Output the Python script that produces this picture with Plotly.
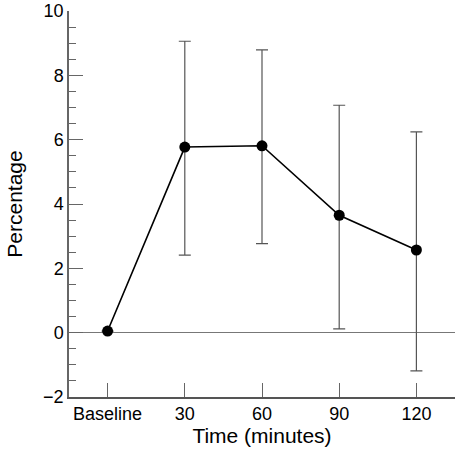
import plotly.graph_objects as go

categories = ["Baseline", "30", "60", "90", "120"]
means = [0.05, 5.77, 5.81, 3.65, 2.57]
upper = [None, 9.06, 8.79, 7.07, 6.24]
lower = [None, 2.41, 2.77, 0.12, -1.19]

xpos = list(range(len(categories)))
err_plus = [0 if u is None else u - m for u, m in zip(upper, means)]
err_minus = [0 if l is None else m - l for l, m in zip(lower, means)]

fig = go.Figure()
fig.add_trace(go.Scatter(
    x=xpos, y=means, mode="lines+markers",
    line=dict(color="black", width=1.6),
    marker=dict(color="black", size=11),
    error_y=dict(type="data", symmetric=False, array=err_plus, arrayminus=err_minus,
                 color="#555555", thickness=1.2, width=6),
    showlegend=False,
    cliponaxis=False,
))

font = "Liberation Sans, Arial, Helvetica, sans-serif"
fig.update_layout(
    width=455, height=452,
    margin=dict(l=69, r=0, t=11, b=55),
    paper_bgcolor="white", plot_bgcolor="white",
    font=dict(family=font, color="black", size=18),
    xaxis=dict(
        range=[-0.5, 4.5], tickvals=xpos, ticktext=categories,
        ticks="inside", ticklen=14, tickcolor="#666666", tickwidth=1,
        showline=True, linecolor="#555555", linewidth=1.5,
        showgrid=False, zeroline=False, automargin=False,
        tickfont=dict(size=18),
        title=dict(text="Time (minutes)", font=dict(size=21), standoff=4),
    ),
    yaxis=dict(
        range=[-2, 10], tickvals=[-2, 0, 2, 4, 6, 8, 10],
        ticktext=["\u22122", "0", "2", "4", "6", "8", "10"],
        ticks="inside", ticklen=14, tickcolor="#666666", tickwidth=1,
        minor=dict(ticks="inside", ticklen=7, dtick=0.5, tick0=0, tickcolor="#666666", tickwidth=1),
        showline=True, linecolor="#666666", linewidth=1.5,
        showgrid=False, automargin=False,
        zeroline=True, zerolinecolor="#777777", zerolinewidth=1,
        tickfont=dict(size=18),
        title=dict(text="Percentage", font=dict(size=21), standoff=15),
    ),
)

fig.write_html("out.html", config={"displayModeBar": False},
               post_script="document.body.style.margin='0';document.body.style.overflow='hidden';")
